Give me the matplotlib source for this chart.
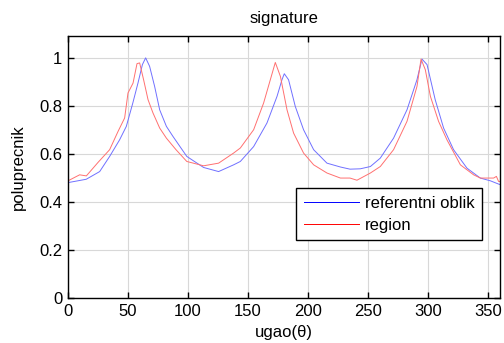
import matplotlib
matplotlib.use('Agg')
import matplotlib.pyplot as plt

# blue curve: referentni oblik
ref_deg = [0, 15.2, 26.4, 34.7, 43, 48.6, 54, 58.3, 62, 64.7, 68, 72.2, 76.4, 82, 87.5, 99,
           113, 125.5, 138, 143.6, 154.7, 165.8, 174.2, 178.3, 180.25, 183.8, 189.4, 196.3,
           204.7, 215.8, 227, 235, 243.6, 252, 260.25, 271.3, 282.5, 290.8, 295, 299.2, 306,
           313, 321.3, 332.5, 343.6, 352, 358.8, 360]
ref_val = [0.48, 0.494, 0.526, 0.589, 0.658, 0.714, 0.811, 0.894, 0.971, 0.999, 0.964, 0.88,
           0.783, 0.714, 0.672, 0.589, 0.543, 0.526, 0.554, 0.568, 0.63, 0.728, 0.839, 0.908,
           0.933, 0.908, 0.797, 0.70, 0.617, 0.561, 0.545, 0.536, 0.5375, 0.547, 0.582, 0.665,
           0.783, 0.908, 0.994, 0.971, 0.825, 0.707, 0.617, 0.54, 0.499, 0.4875, 0.474, 0.472]

# red curve: region
reg_deg = [0, 9.7, 15.3, 25, 34.7, 41.7, 47.2, 50, 54.2, 57.5, 59.7, 63, 66.7, 70.8, 76.4, 82,
           90, 99, 113, 125.5, 138, 143.6, 154.7, 163, 168.6, 172.75, 177, 182.5, 188, 196.3,
           204.7, 215.8, 227, 235, 240.8, 252, 260.25, 271.3, 282.5, 290.8, 294.2, 297.75, 302,
           308.8, 315.8, 327, 338, 343.6, 354.7, 357, 358.8, 360]
reg_val = [0.4875, 0.5125, 0.508, 0.564, 0.617, 0.693, 0.749, 0.853, 0.894, 0.975, 0.978,
           0.908, 0.825, 0.77, 0.707, 0.665, 0.617, 0.568, 0.55, 0.561, 0.603, 0.624, 0.70,
           0.811, 0.908, 0.98, 0.922, 0.783, 0.686, 0.603, 0.554, 0.52, 0.499, 0.499, 0.49,
           0.52, 0.547, 0.617, 0.735, 0.88, 0.994, 0.95, 0.839, 0.735, 0.658, 0.554, 0.5125,
           0.499, 0.499, 0.506, 0.485, 0.485]

x_ticks = [0, 50, 100, 150, 200, 250, 300, 350]
y_ticks = [0, 0.2, 0.4, 0.6, 0.8, 1]
y_tick_labels = ['0', '0.2', '0.4', '0.6', '0.8', '1']


def main():
    plt.rcParams['font.family'] = ['Liberation Sans', 'DejaVu Sans']
    fig = plt.figure(figsize=(5.04, 3.43), dpi=100)
    ax = fig.add_axes([68 / 504, 45 / 343, 432 / 504, 262 / 343])

    ax.plot(ref_deg, ref_val, color='#7070ff', lw=0.7, label='referentni oblik')
    ax.plot(reg_deg, reg_val, color='#ff7070', lw=0.7, label='region')

    ax.set_xlim(0, 360)
    ax.set_ylim(0, 1.09)
    ax.set_xticks(x_ticks)
    ax.set_yticks(y_ticks)
    ax.set_yticklabels(y_tick_labels)
    ax.tick_params(direction='in', length=4, width=1, top=True, right=True,
                   labelsize=12, colors='black', pad=4)
    ax.grid(True, color='#d8d8d8', lw=0.8)
    for s in ax.spines.values():
        s.set_linewidth(1)

    ax.set_title('signature', fontsize=12, pad=9)
    ax.set_xlabel('ugao(θ)', fontsize=12, labelpad=5)
    ax.set_ylabel('poluprecnik', fontsize=12, labelpad=10)

    leg = ax.legend(loc='upper right', bbox_to_anchor=(0.958, 0.418), fontsize=12,
                    fancybox=False, edgecolor='black', framealpha=1, handlelength=3.3,
                    handletextpad=0.35, borderpad=0.45, labelspacing=0.4, borderaxespad=0)
    leg.get_frame().set_linewidth(1)
    leg.get_lines()[0].set_color('blue')
    leg.get_lines()[1].set_color('red')

    plt.savefig('out.png', dpi=100)


if __name__ == '__main__':
    main()
